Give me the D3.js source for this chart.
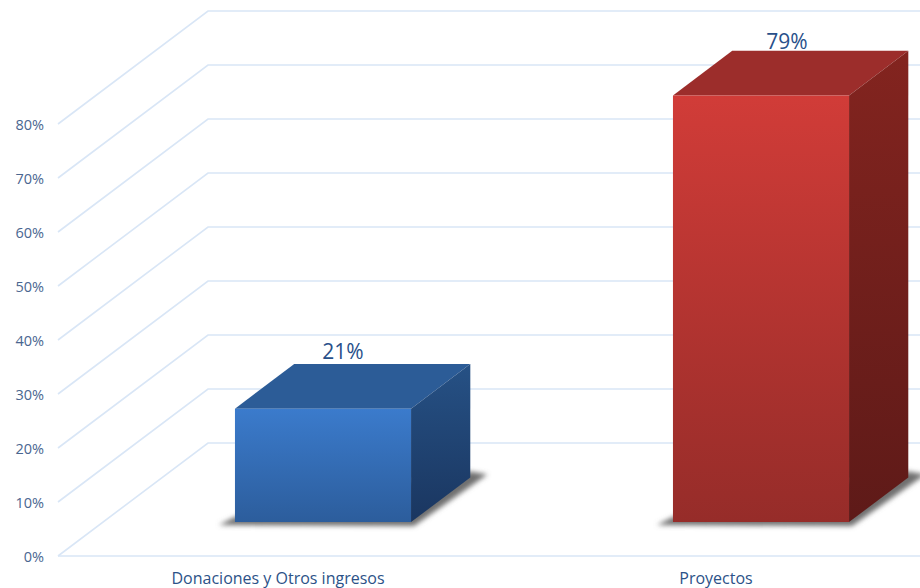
<!DOCTYPE html>
<html>
<head>
<meta charset="utf-8">
<script src="https://cdnjs.cloudflare.com/ajax/libs/d3/7.8.5/d3.min.js"></script>
<style>
html, body { margin: 0; padding: 0; background: #fff; }
svg { display: block; }
text { font-family: "Open Sans", "Noto Sans", sans-serif; }
</style>
</head>
<body>
<svg id="chart" width="920" height="588"></svg>
<script>
var categories = ["Donaciones y Otros ingresos", "Proyectos"];
var values = [21, 79];
var valueLabels = ["21%", "79%"];
var tickValues = [0, 10, 20, 30, 40, 50, 60, 70, 80];

var frontColors = [["#3b7bcc", "#2c5d9c"], ["#d13c38", "#962c29"]];
var topColors = ["#2c5c97", "#9c2d2b"];
var sideColors = [["#265185", "#1a3660"], ["#83241f", "#5e1a18"]];

var svg = d3.select("#chart");
var defs = svg.append("defs");

// front plane scales
var y = d3.scaleLinear().domain([0, 80]).range([556, 124]);
var x = d3.scaleBand().domain(categories).range([59, 935])
    .paddingInner(0.598).paddingOuter(0.299);

// depth goes up and to the right, 0 = front of floor, 1 = back wall
var depthX = d3.scaleLinear().domain([0, 1]).range([0, 150]);
var depthY = d3.scaleLinear().domain([0, 1]).range([0, -113]);
var barDepth = [0.3, 0.695];

var axisX = 58;

function pt(px, value, depth) {
  return [px + depthX(depth), y(value) + depthY(depth)];
}
function poly(points) {
  return points.map(function(p) { return p.join(","); }).join(" ");
}
function gradient(id, colors) {
  var g = defs.append("linearGradient").attr("id", id)
      .attr("x1", 0).attr("y1", 0).attr("x2", 0).attr("y2", 1);
  g.append("stop").attr("offset", "0%").attr("stop-color", colors[0]);
  g.append("stop").attr("offset", "100%").attr("stop-color", colors[1]);
}

defs.append("filter").attr("id", "soft")
    .attr("x", "-10%").attr("y", "-30%").attr("width", "120%").attr("height", "160%")
  .append("feGaussianBlur").attr("stdDeviation", 2.6);

var gridColor = "#d9e6f6";

// gridlines: side wall then back wall
var grid = svg.append("g").attr("fill", "none")
    .attr("stroke", gridColor).attr("stroke-width", 1.6);
grid.selectAll("polyline").data(tickValues).enter().append("polyline")
    .attr("points", function(d) {
      return poly([pt(axisX, d, 0), pt(axisX, d, 1), [920, pt(axisX, d, 1)[1]]]);
    });
// front edge of the floor
grid.append("line")
    .attr("x1", axisX).attr("x2", 920)
    .attr("y1", y(0)).attr("y2", y(0));

// value axis
var yAxis = d3.axisLeft(y).tickValues(tickValues)
    .tickSize(0).tickPadding(14)
    .tickFormat(function(d) { return d + "%"; });
var axisG = svg.append("g").attr("transform", "translate(" + axisX + ",1)").call(yAxis);
axisG.select(".domain").remove();
axisG.selectAll("text").attr("font-size", 14.5).attr("fill", "#4a6690")
    .style("font-family", '"Open Sans", sans-serif');

// category axis
var xAxis = d3.axisBottom(x).tickSize(0).tickPadding(17);
var xG = svg.append("g").attr("transform", "translate(0," + y(0) + ")").call(xAxis);
xG.select(".domain").remove();
xG.selectAll("text").attr("font-size", 16).attr("fill", "#2c5288")
    .style("font-family", '"Open Sans", sans-serif');

// label nudges against the top back edge of each bar
var labelDx = [20, 26];
var labelDy = [-5, -2];

// bars
var bars = svg.selectAll("g.bar").data(values).enter().append("g").attr("class", "bar");

bars.each(function(d, i) {
  var g = d3.select(this);
  var left = x(categories[i]);
  var right = left + x.bandwidth();
  var d0 = barDepth[0], d1 = barDepth[1];

  gradient("front" + i, frontColors[i]);
  gradient("side" + i, sideColors[i]);

  // shadow on the floor
  var a = pt(left, 0, d0), b = pt(right, 0, d0), c = pt(right, 0, d1);
  g.append("polygon").attr("filter", "url(#soft)").attr("fill", "#707070")
      .attr("points", poly([[a[0] - 16, a[1] + 3], [b[0] + 3, b[1] + 4], [c[0] + 17, c[1] - 3], [c[0], c[1] - 6], [a[0], a[1] - 5]]));

  g.append("polygon").attr("fill", topColors[i])
      .attr("points", poly([pt(left, d, d0), pt(right, d, d0), pt(right, d, d1), pt(left, d, d1)]));
  g.append("polygon").attr("fill", "url(#side" + i + ")")
      .attr("points", poly([pt(right, d, d0), pt(right, d, d1), pt(right, 0, d1), pt(right, 0, d0)]));
  g.append("polygon").attr("fill", "url(#front" + i + ")")
      .attr("points", poly([pt(left, d, d0), pt(right, d, d0), pt(right, 0, d0), pt(left, 0, d0)]));

  // label above the top face
  var front = pt(left + x.bandwidth() / 2, d, d0);
  var back = pt(left, d, d1);
  g.append("text")
      .attr("x", front[0] + labelDx[i])
      .attr("y", back[1] + labelDy[i])
      .attr("text-anchor", "middle")
      .attr("font-size", 21)
      .attr("fill", "#28508a")
      .text(valueLabels[i]);
});
</script>
</body>
</html>
